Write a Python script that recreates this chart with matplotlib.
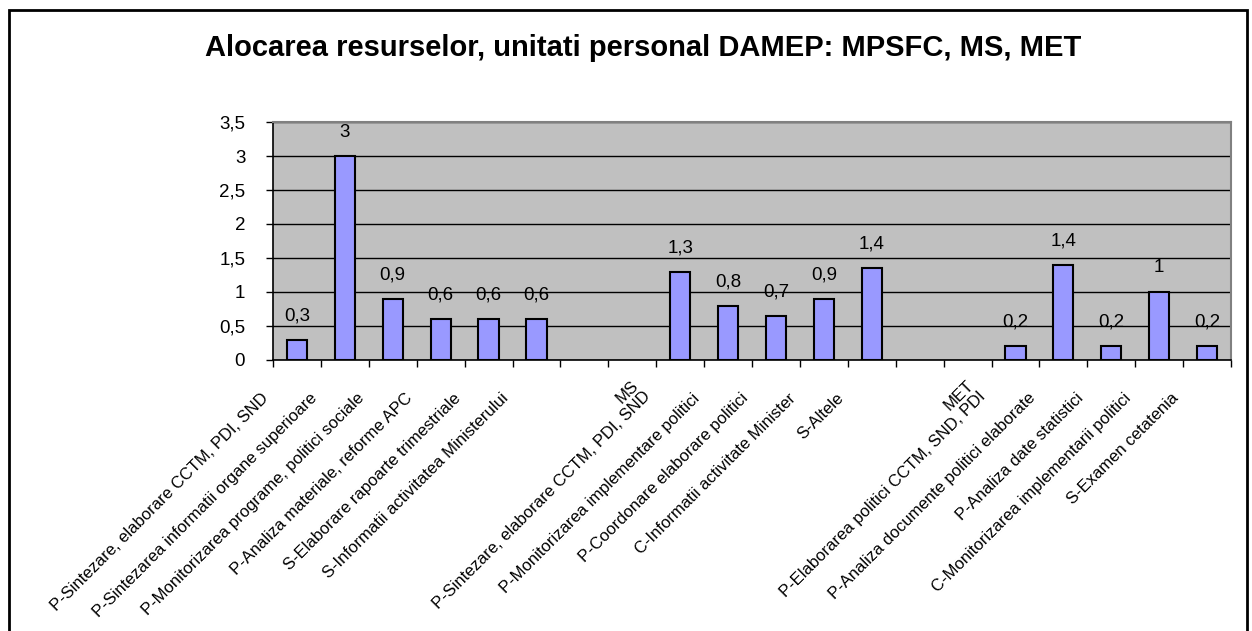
import numpy as np
import matplotlib
matplotlib.use('Agg')
import matplotlib.pyplot as plt
from matplotlib.ticker import FixedLocator, MultipleLocator, FuncFormatter
from matplotlib.patches import Rectangle
import matplotlib.transforms as mtransforms

categories = [
    'P-Sintezare, elaborare CCTM, PDI, SND',
    'P-Sintezarea informatii organe superioare',
    'P-Monitorizarea programe, politici sociale',
    'P-Analiza materiale, reforme APC',
    'S-Elaborare rapoarte trimestriale',
    'S-Informatii activitatea Ministerului',
    '',
    '',
    'MS\nP-Sintezare, elaborare CCTM, PDI, SND',
    'P-Monitorizarea implementare politici',
    'P-Coordonare elaborare politici',
    'C-Informatii activitate Minister',
    'S-Altele',
    '',
    '',
    'MET\nP-Elaborarea politici CCTM, SND, PDI',
    'P-Analiza documente politici elaborate',
    'P-Analiza date statistici',
    'C-Monitorizarea implementarii politici',
    'S-Examen cetatenia',
]
values = [0.3, 3, 0.9, 0.6, 0.6, 0.6, np.nan, np.nan,
          1.3, 0.8, 0.65, 0.9, 1.35, np.nan, np.nan,
          0.2, 1.4, 0.2, 1, 0.2]
title = 'Alocarea resurselor, unitati personal DAMEP: MPSFC, MS, MET'

dpi = 100.
plt.rcParams.update({'figure.dpi': dpi,
                     'figure.figsize': [1252/dpi, 631/dpi],
                     'font.family': ['Liberation Sans', 'DejaVu Sans'],
                     'font.size': 12})


def comma(v):
    s = f'{v:.1f}'.rstrip('0').rstrip('.')
    return s.replace('.', ',')


fig = plt.figure()
ax = fig.add_axes([273/1252, 1 - 360/631, (1231 - 273)/1252, (360 - 122)/631])
ax.set_facecolor('#C0C0C0')

x = np.arange(len(values))
ax.bar(x, values, width=0.42, color='#9999FF', edgecolor='black',
       linewidth=1.5, zorder=3)
for xi, v in zip(x, values):
    if np.isnan(v):
        continue
    ax.annotate(comma(v), (xi, v), xytext=(0, 24), textcoords='offset pixels',
                ha='center', va='center', fontsize=13.5, zorder=4)

ax.set_xlim(-0.5, len(values) - 0.5)
ax.set_ylim(0, 3.5)
ax.yaxis.set_major_locator(MultipleLocator(0.5))
ax.yaxis.set_major_formatter(FuncFormatter(lambda v, p: comma(v)))
ax.grid(axis='y', color='black', linewidth=1, zorder=1)
ax.set_axisbelow(True)

ax.xaxis.set_major_locator(FixedLocator(x))
ax.xaxis.set_minor_locator(FixedLocator(np.arange(len(values) + 1) - 0.5))
ax.set_xticklabels(categories, rotation=45, ha='right', va='top',
                   rotation_mode='anchor', multialignment='right', fontsize=12,
                   linespacing=1.1)
ax.tick_params(axis='x', which='major', length=0, pad=22)
ax.tick_params(axis='x', which='minor', length=5, width=1, color='black')
ax.tick_params(axis='y', length=5, width=1, pad=15, labelsize=13.5)
for lab in ax.get_xticklabels():
    dx, dy = -36, 0
    if '\n' in lab.get_text():
        # keep the last line where a one-line label would sit
        dx, dy = dx - 13, dy + 13
    shift = mtransforms.ScaledTranslation(dx/dpi, dy/dpi, fig.dpi_scale_trans)
    lab.set_transform(lab.get_transform() + shift)

for side in ['top', 'right']:
    ax.spines[side].set_color('#808080')
    ax.spines[side].set_linewidth(1.5)
for side in ['left', 'bottom']:
    ax.spines[side].set_color('black')
    ax.spines[side].set_linewidth(1.2)

fig.text(643/1252, 1 - 48/631, title, ha='center', va='center',
         fontsize=21, fontweight='bold')

fig.patches.append(Rectangle((9/1252, -0.1), (1247 - 9)/1252, 1.1 - 10/631,
                             transform=fig.transFigure, fill=False,
                             edgecolor='black', linewidth=2))

fig.savefig('out.png', dpi=dpi)
